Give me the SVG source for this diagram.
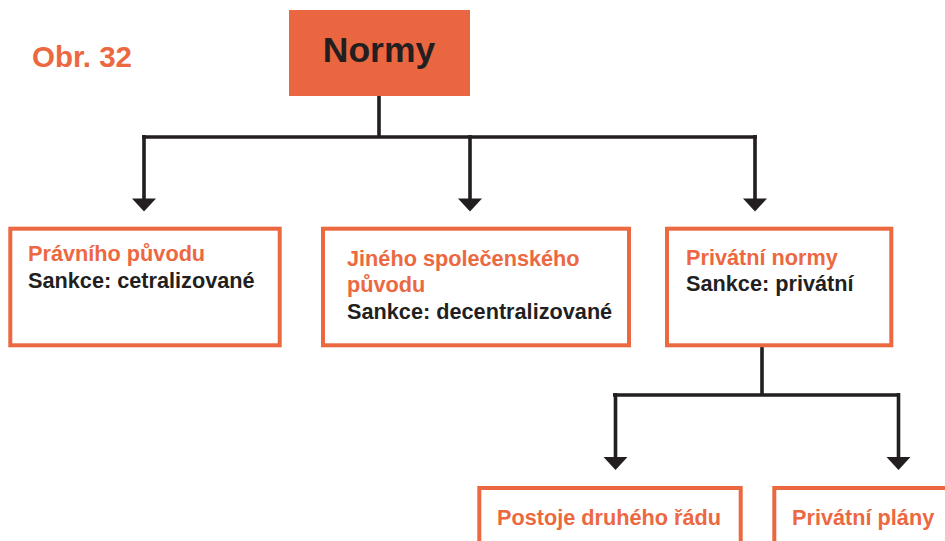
<svg xmlns="http://www.w3.org/2000/svg" width="945" height="541" viewBox="0 0 945 541">
<defs>
<style>
.box{fill:#fff;stroke:#EC6841;stroke-width:4}
.t{font-family:"Liberation Sans",Arial,sans-serif;font-weight:bold;font-size:21.7px}
.o{fill:#EC6841}
.d{fill:#231F20}
.ln{fill:none;stroke:#231F20;stroke-width:3.6}
.ah{fill:#231F20}
</style>
</defs>
<text x="32" y="67" class="t o" style="font-size:29.5px">Obr. 32</text>
<g id="connectors">
<path class="ln" d="M379,96 V137 M142,137 H757"/>
<path class="ln" d="M144,135 V200 M470,135 V200 M755,135 V200"/>
<polygon class="ah" points="132,198.5 156,198.5 144,211.5"/>
<polygon class="ah" points="458,198.5 482,198.5 470,211.5"/>
<polygon class="ah" points="743,198.5 767,198.5 755,211.5"/>
<path class="ln" d="M762,347 V395 M613,395 H900"/>
<path class="ln" d="M615.5,393 V459 M898.5,393 V459"/>
<polygon class="ah" points="603.5,457 627.5,457 615.5,470"/>
<polygon class="ah" points="886.5,457 910.5,457 898.5,470"/>
</g>
<g id="normy">
<rect x="289" y="10" width="181" height="86" fill="#EA6640"/>
<text x="379" y="62" text-anchor="middle" class="t d" style="font-size:35.5px">Normy</text>
</g>
<g id="pravniho">
<rect class="box" x="10.3" y="228.7" width="269.4" height="116.6"/>
<text x="28" y="261" class="t o">Právního původu</text>
<text x="28" y="288" class="t d">Sankce: cetralizované</text>
</g>
<g id="jineho">
<rect class="box" x="323" y="228.7" width="306" height="116.6"/>
<text x="347" y="266" class="t o">Jiného společenského</text>
<text x="347" y="292" class="t o">původu</text>
<text x="347" y="319" class="t d">Sankce: decentralizované</text>
</g>
<g id="privatni">
<rect class="box" x="667" y="228.7" width="224.3" height="116.6"/>
<text x="686" y="265" class="t o">Privátní normy</text>
<text x="686" y="291" class="t d">Sankce: privátní</text>
</g>
<g id="postoje">
<rect class="box" x="479.3" y="488" width="261.4" height="80"/>
<text x="609" y="525" text-anchor="middle" class="t o">Postoje druhého řádu</text>
</g>
<g id="plany">
<rect class="box" x="774.3" y="488" width="200" height="80"/>
<text x="792" y="525" class="t o">Privátní plány</text>
</g>
</svg>
